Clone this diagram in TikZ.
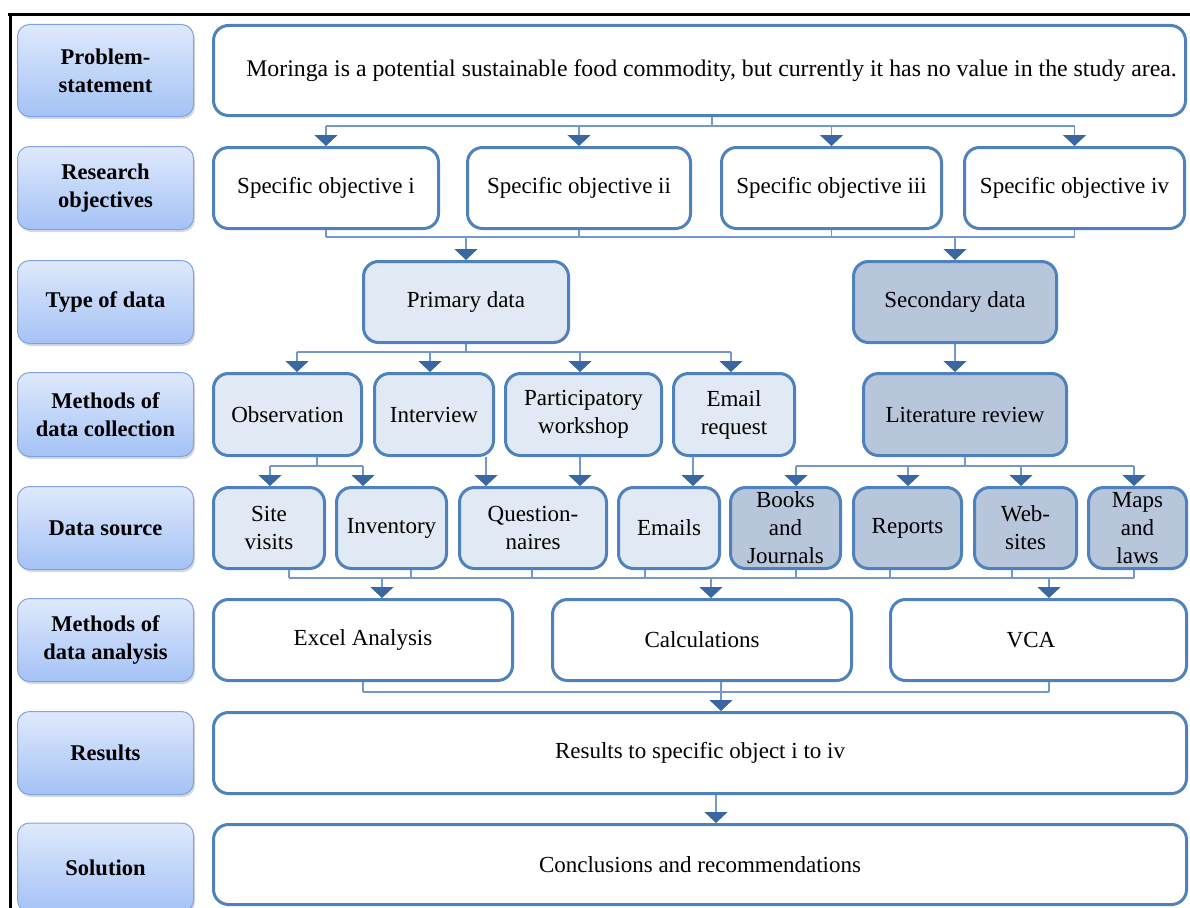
\documentclass[tikz,border=0pt]{standalone}
\usepackage{fontspec}
\setmainfont{Liberation Serif}
\usetikzlibrary{arrows.meta,shadows,calc}

\definecolor{boxline}{HTML}{4F81BD}
\definecolor{railblue}{HTML}{7199CF}
\definecolor{arrowblue}{HTML}{3A66A2}
\definecolor{lightfill}{HTML}{E0E9F4}
\definecolor{darkfill}{HTML}{B7C6DA}
\definecolor{labeltop}{HTML}{DFE9FC}
\definecolor{labelbot}{HTML}{A4C2F6}
\definecolor{labelline}{HTML}{7FA5DC}

\tikzset{
  stagelabel/.style={rounded corners=12pt, draw=labelline, line width=1pt,
    top color=labeltop, bottom color=labelbot,
    drop shadow={shadow xshift=1.5pt, shadow yshift=-2.5pt, opacity=0.3},
    font=\fontsize{22.5}{28}\selectfont\bfseries, align=center, inner sep=0pt},
  stagebox/.style={rounded corners=15pt, draw=boxline, line width=3pt, fill=white,
    font=\fontsize{23}{28}\selectfont, align=center, inner sep=0pt},
  primbox/.style={stagebox, fill=lightfill},
  secbox/.style={stagebox, fill=darkfill},
  rail/.style={draw=railblue, line width=1.5pt},
  arr/.style={rail, -{Triangle[width=23pt,length=11pt,color=arrowblue]}}
}

\begin{document}
\begin{tikzpicture}[x=1pt,y=-1pt]
\useasboundingbox (0,0) rectangle (1190,907);

% outer frame (top and left edges)
\draw[line width=3pt] (8,15) -- (1190,15);
\draw[line width=3pt] (10,13.5) -- (10,908);

% stage labels on the left
\node[stagelabel, minimum width=176pt, minimum height=92pt] (lp) at (105.5,70.5) {Problem-\\statement};
\node[stagelabel, minimum width=176pt, minimum height=83pt] (lo) at (105.5,188) {Research\\objectives};
\node[stagelabel, minimum width=176pt, minimum height=83pt] (lt) at (105.5,302) {Type of data};
\node[stagelabel, minimum width=176pt, minimum height=84pt] (lm) at (105.5,414.5) {Methods of\\data collection};
\node[stagelabel, minimum width=176pt, minimum height=83pt] (ls) at (105.5,528) {Data source};
\node[stagelabel, minimum width=176pt, minimum height=83pt] (la) at (105.5,640) {Methods of\\data analysis};
\node[stagelabel, minimum width=176pt, minimum height=83pt] (lr) at (105.5,753) {Results};
\node[stagelabel, minimum width=176pt, minimum height=89pt] (lsol) at (105.5,867.5) {Solution};

% problem statement
\node[stagebox, minimum width=972pt, minimum height=90pt, font=\fontsize{23.8}{28}\selectfont] (prob) at (699.5,70.5)
  {\hspace*{24pt}Moringa is a potential sustainable food commodity, but currently it has no value in the study area.};

% objectives
\node[stagebox, minimum width=225pt, minimum height=81pt] (o1) at (326,188) {Specific objective i};
\node[stagebox, minimum width=223pt, minimum height=81pt] (o2) at (579,188) {Specific objective ii};
\node[stagebox, minimum width=220pt, minimum height=81pt] (o3) at (831.5,188) {Specific objective iii};
\node[stagebox, minimum width=220pt, minimum height=81pt] (o4) at (1074.5,188) {Specific objective iv};

% type of data
\node[primbox, minimum width=205pt, minimum height=81pt] (prim) at (466,302) {Primary data};
\node[secbox, minimum width=203pt, minimum height=81pt] (sec) at (955,302) {Secondary data};

% methods of data collection
\node[primbox, minimum width=148pt, minimum height=82pt] (obs) at (287.5,414.5) {Observation};
\node[primbox, minimum width=119pt, minimum height=82pt] (int) at (434,414.5) {Interview};
\node[primbox, minimum width=156pt, minimum height=82pt] (part) at (583.5,414.5) {Participatory\\workshop};
\node[primbox, minimum width=121pt, minimum height=82pt] (email) at (734,414.5) {Email\\request};
\node[secbox, minimum width=203pt, minimum height=82pt] (lit) at (965,414.5) {Literature review};

% data sources
\node[primbox, minimum width=111pt, minimum height=81pt] (site) at (269,528) {Site\\visits};
\node[primbox, minimum width=110pt, minimum height=81pt] (inv) at (391.5,528) {Inventory};
\node[primbox, minimum width=147pt, minimum height=81pt] (quest) at (533,528) {Question-\\naires};
\node[primbox, minimum width=101pt, minimum height=81pt] (emails) at (669,528) {Emails};
\node[secbox, minimum width=110pt, minimum height=81pt] (books) at (785.5,528) {Books\\and\\Journals};
\node[secbox, minimum width=108pt, minimum height=81pt] (rep) at (907.5,528) {Reports};
\node[secbox, minimum width=102pt, minimum height=81pt] (web) at (1025.5,528) {Web-\\sites};
\node[secbox, minimum width=98pt, minimum height=81pt] (maps) at (1137.5,528) {Maps\\and\\laws};

% methods of data analysis
\node[stagebox, minimum width=299pt, minimum height=81pt] (excel) at (363,640) {Excel Analysis};
\node[stagebox, minimum width=299pt, minimum height=81pt] (calc) at (702,640) {Calculations};
\node[stagebox, minimum width=296pt, minimum height=81pt] (vca) at (1038.5,640) {\hspace*{-15pt}VCA};

% results and solution
\node[stagebox, minimum width=973pt, minimum height=81pt] (res) at (700,753) {Results to specific object i to iv};
\node[stagebox, minimum width=973pt, minimum height=80pt] (sol) at (700,864.5) {Conclusions and recommendations};

% rail levels
\coordinate (railA) at (0,126);
\coordinate (railB) at (0,237);
\coordinate (railC) at (0,352);
\coordinate (railD) at (0,466);
\coordinate (railE) at (0,578);
\coordinate (railF) at (0,692);

% problem -> objectives
\draw[rail] ($(prob.south)+(12.5,0)$) -- ($(prob.south |- railA)+(12.5,0)$);
\draw[rail] (o1.north |- railA) -- (o4.north |- railA);
\foreach \n in {o1,o2,o3,o4} \draw[arr] (\n.north |- railA) -- (\n.north);

% objectives -> type of data
\foreach \n in {o1,o2,o3,o4} \draw[rail] (\n.south) -- (\n.south |- railB);
\draw[rail] (o1.south |- railB) -- (o4.south |- railB);
\draw[arr] (prim.north |- railB) -- (prim.north);
\draw[arr] (sec.north |- railB) -- (sec.north);

% primary data -> collection methods
\draw[rail] (prim.south) -- (prim.south |- railC);
\draw[rail] ($(obs.north |- railC)+(9.5,0)$) -- ($(email.north |- railC)+(-3,0)$);
\draw[arr] ($(obs.north |- railC)+(9.5,0)$) -- ($(obs.north)+(9.5,0)$);
\draw[arr] ($(int.north |- railC)+(-4,0)$) -- ($(int.north)+(-4,0)$);
\draw[arr] ($(part.north |- railC)+(-3.5,0)$) -- ($(part.north)+(-3.5,0)$);
\draw[arr] ($(email.north |- railC)+(-3,0)$) -- ($(email.north)+(-3,0)$);

% secondary data -> literature review
\draw[arr] (sec.south) -- (sec.south |- lit.north);

% collection methods -> primary sources
\draw[rail] ($(obs.south)+(29.5,0)$) -- ($(obs.south |- railD)+(29.5,0)$);
\draw[rail] ($(site.north |- railD)+(1,0)$) -- ($(inv.north |- railD)+(-28.5,0)$);
\draw[arr] ($(site.north |- railD)+(1,0)$) -- ($(site.north)+(1,0)$);
\draw[arr] ($(inv.north |- railD)+(-28.5,0)$) -- ($(inv.north)+(-28.5,0)$);
\draw[arr] ($(int.south)+(52,0)$) -- ($(int.south |- quest.north)+(52,0)$);
\draw[arr] ($(part.south)+(-3.5,0)$) -- ($(part.south |- quest.north)+(-3.5,0)$);
\draw[arr] ($(email.south)+(-41,0)$) -- ($(email.south |- emails.north)+(-41,0)$);

% literature review -> secondary sources
\draw[rail] (lit.south) -- (lit.south |- railD);
\draw[rail] ($(books.north |- railD)+(10.5,0)$) -- ($(maps.north |- railD)+(-3.5,0)$);
\draw[arr] ($(books.north |- railD)+(10.5,0)$) -- ($(books.north)+(10.5,0)$);
\draw[arr] ($(rep.north |- railD)+(0.5,0)$) -- ($(rep.north)+(0.5,0)$);
\draw[arr] ($(web.north |- railD)+(-4.5,0)$) -- ($(web.north)+(-4.5,0)$);
\draw[arr] ($(maps.north |- railD)+(-3.5,0)$) -- ($(maps.north)+(-3.5,0)$);

% data sources -> analysis methods
\foreach \n/\dx in {site/20,inv/19.5,quest/-1,emails/-24,books/10.5,rep/-17.5,web/-13.5,maps/-3.5}
  \draw[rail] ($(\n.south)+(\dx,0)$) -- ($(\n.south |- railE)+(\dx,0)$);
\draw[rail] ($(site.south |- railE)+(20,0)$) -- ($(maps.south |- railE)+(-3.5,0)$);
\draw[arr] ($(excel.north |- railE)+(19,0)$) -- ($(excel.north)+(19,0)$);
\draw[arr] ($(calc.north |- railE)+(9,0)$) -- ($(calc.north)+(9,0)$);
\draw[arr] ($(vca.north |- railE)+(10.5,0)$) -- ($(vca.north)+(10.5,0)$);

% analysis methods -> results
\draw[rail] (excel.south) -- (excel.south |- railF);
\draw[rail] ($(vca.south)+(10.5,0)$) -- ($(vca.south |- railF)+(10.5,0)$);
\draw[rail] (excel.south |- railF) -- ($(vca.south |- railF)+(10.5,0)$);
\draw[rail] ($(calc.south)+(19,0)$) -- ($(calc.south |- railF)+(19,0)$);
\draw[arr] ($(calc.south |- railF)+(19,0)$) -- ($(calc.south |- res.north)+(19,0)$);

% results -> solution
\draw[arr] ($(res.south)+(16,0)$) -- ($(res.south |- sol.north)+(16,0)$);
\end{tikzpicture}
\end{document}
